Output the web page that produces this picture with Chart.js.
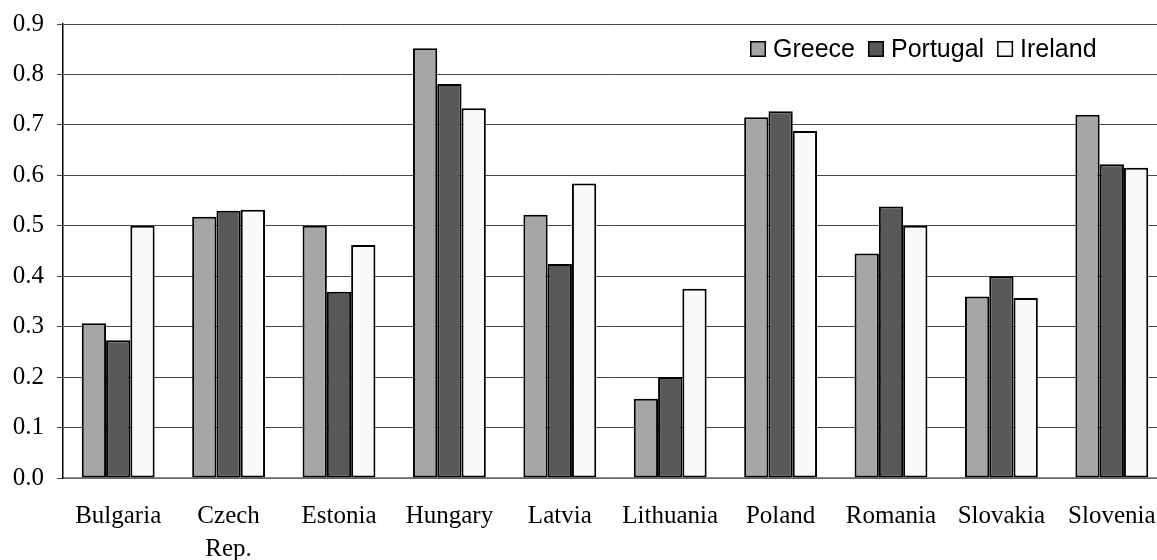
<!DOCTYPE html>
<html>
<head>
<meta charset="utf-8">
<script src="https://cdn.jsdelivr.net/npm/chart.js@4.4.1/dist/chart.umd.min.js"></script>
<style>
  html, body { margin: 0; padding: 0; background: #ffffff; overflow: hidden; }
  #wrap { width: 1157px; height: 560px; overflow: hidden; }
</style>
</head>
<body>
<div id="wrap"><canvas id="barChart" width="1167" height="560"></canvas></div>
<script>
const countries = ['Bulgaria', ['Czech', 'Rep.'], 'Estonia', 'Hungary', 'Latvia', 'Lithuania', 'Poland', 'Romania', 'Slovakia', 'Slovenia']
const greece   = [0.307, 0.518, 0.500, 0.852, 0.522, 0.157, 0.715, 0.445, 0.360, 0.720]
const portugal = [0.273, 0.530, 0.369, 0.781, 0.424, 0.200, 0.727, 0.538, 0.400, 0.622]
const ireland  = [0.500, 0.532, 0.462, 0.733, 0.584, 0.375, 0.688, 0.500, 0.357, 0.615]
const yTicks   = ['0.0', '0.1', '0.2', '0.3', '0.4', '0.5', '0.6', '0.7', '0.8', '0.9']

const serif = "'Liberation Serif', 'Times New Roman', serif"
const sans = "'Liberation Sans', Arial, sans-serif"

const makeSet = (label, data, color) => ({
  label: label,
  data: data,
  backgroundColor: color,
  borderColor: '#000000',
  borderWidth: 2,
  borderSkipped: false,
  categoryPercentage: 0.66,
  barPercentage: 1.0
})

// legend drawn inside the plot, top right
const insideLegend = {
  id: 'insideLegend',
  afterDraw(chart) {
    const ctx = chart.ctx
    ctx.save()
    ctx.font = '25px ' + sans
    ctx.textBaseline = 'middle'
    let x = 750
    const yc = 49
    chart.data.datasets.forEach(ds => {
      ctx.fillStyle = ds.backgroundColor
      ctx.fillRect(x, yc - 8, 16, 16)
      ctx.strokeStyle = '#000000'
      ctx.lineWidth = 1.5
      ctx.strokeRect(x + 0.75, yc - 7.25, 14.5, 14.5)
      ctx.fillStyle = '#000000'
      ctx.fillText(ds.label, x + 23, yc + 1)
      x += 23 + ctx.measureText(ds.label).width + 13
    })
    ctx.restore()
  }
}

const ctx = document.getElementById('barChart').getContext('2d')
const barChart = new Chart(ctx, {
  type: 'bar',
  data: {
    labels: countries,
    datasets: [
      makeSet('Greece', greece, '#a6a6a6'),
      makeSet('Portugal', portugal, '#595959'),
      makeSet('Ireland', ireland, '#f9f9f9')
    ]
  },
  options: {
    responsive: false,
    animation: false,
    layout: { padding: { left: 0, right: 0, top: 24, bottom: 0 } },
    plugins: {
      legend: { display: false },
      tooltip: { enabled: false }
    },
    scales: {
      x: {
        grid: { display: false, drawTicks: false },
        border: { display: true, color: '#8c8c8c', width: 1.5 },
        ticks: {
          color: '#000000',
          font: { family: serif, size: 25, lineHeight: 1.33 },
          padding: 22,
          maxRotation: 0,
          autoSkip: false
        },
        afterFit: scale => {
          scale.height = 82
          scale.paddingLeft = 0
          scale.paddingRight = 0
        }
      },
      y: {
        min: 0,
        max: 0.9,
        grid: { color: '#474747', lineWidth: 1, tickLength: 6 },
        border: { display: true, color: '#000000', width: 1.5 },
        ticks: {
          stepSize: 0.1,
          color: '#000000',
          padding: 13,
          font: { family: serif, size: 25 },
          callback: (v, i) => yTicks[i]
        },
        afterFit: scale => {
          scale.width = 63
          scale.paddingTop = 0
          scale.paddingBottom = 0
        }
      }
    }
  },
  plugins: [insideLegend]
})
</script>
</body>
</html>
